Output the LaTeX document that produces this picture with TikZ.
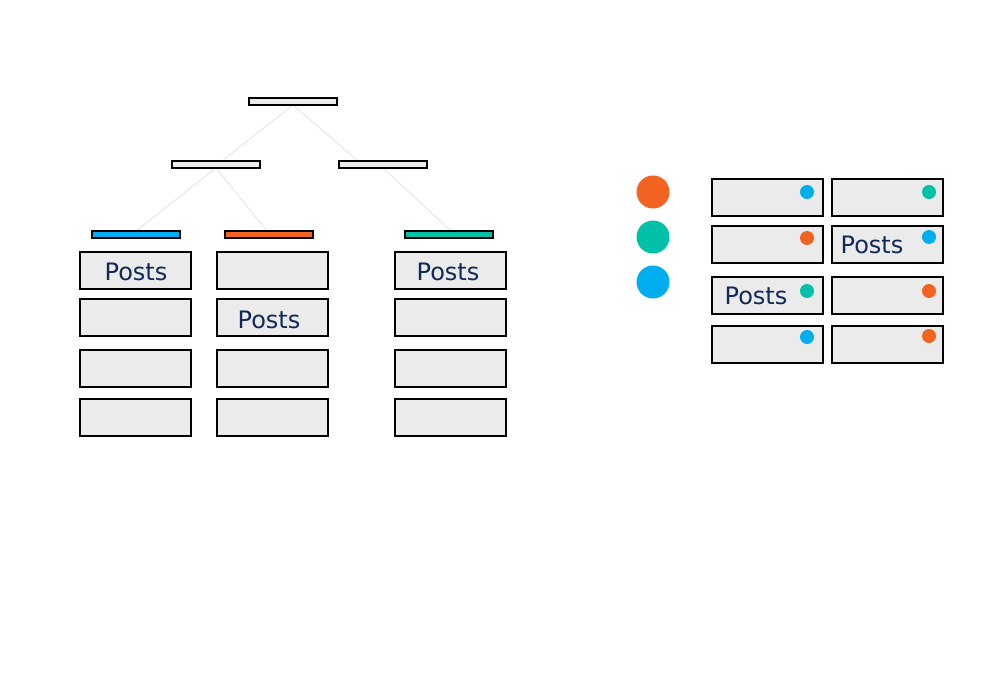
\documentclass[tikz,border=0pt]{standalone}
\usepackage{fontspec}
\usetikzlibrary{backgrounds}
\newfontfamily\postsfont{DejaVu Sans}
\definecolor{boxgray}{HTML}{EBEBEB}
\definecolor{linkgray}{HTML}{E2E2E2}
\definecolor{cblue}{HTML}{00AEEF}
\definecolor{corange}{HTML}{F26322}
\definecolor{cgreen}{HTML}{00C0A8}
\definecolor{navy}{HTML}{10295A}
\begin{document}
\begin{tikzpicture}[x=1pt,y=-1pt,
  bar/.style={draw=black,line width=1.6pt,fill=boxgray,minimum width=88pt,minimum height=7pt,inner sep=0pt,outer sep=0pt},
  slot/.style={draw=black,line width=1.6pt,fill=boxgray,minimum width=111pt,minimum height=37pt,inner sep=0pt,outer sep=0pt},
  link/.style={draw=linkgray,line width=0.8pt},
  txt/.style={font=\postsfont\fontsize{24}{24}\selectfont,text=navy,inner sep=0pt},
  bigdot/.style={circle,fill=#1,minimum size=33pt,inner sep=0pt},
  smalldot/.style={circle,fill=#1,minimum size=14pt,inner sep=0pt}]
\useasboundingbox (0,0) rectangle (1000,687);

% index tree bars
\node[bar] (root) at (293,101.5) {};
\node[bar] (midL) at (216,164.5) {};
\node[bar] (midR) at (383,164.5) {};
\node[bar,fill=cblue] (leafA) at (136,234.5) {};
\node[bar,fill=corange] (leafB) at (269,234.5) {};
\node[bar,fill=cgreen] (leafC) at (449,234.5) {};

% index tree links, kept behind the bars
\begin{scope}[on background layer]
\draw[link] (root.south) -- ([xshift=6pt]midL.north);
\draw[link] (root.south) -- ([xshift=-25pt]midR.north);
\draw[link] (midL.south) -- (leafA.north);
\draw[link] (midL.south) -- ([xshift=-2pt]leafB.north);
\draw[link] (midR.south) -- ([xshift=2pt]leafC.north);
\end{scope}

% storage slots below the leaves
\foreach \c/\x in {a/135.5,b/272.5,c/450.5}{
  \foreach \r/\y in {1/270.5,2/317.5,3/368.5,4/417.5}{
    \node[slot] (s\c\r) at (\x,\y) {};
  }
}
\node[txt] (pa) at (136,272) {Posts};
\node[txt] (pb) at (269,319.5) {Posts};
\node[txt] (pc) at (448,272) {Posts};

% legend dots
\node[bigdot=corange] (dO) at (653,192) {};
\node[bigdot=cgreen] (dG) at (653,237) {};
\node[bigdot=cblue] (dB) at (653,282) {};

% heap pages with colour tags
\foreach \c/\x in {l/767.5,r/887.5}{
  \foreach \r/\y in {1/197.5,2/244.5,3/295.5,4/344.5}{
    \node[slot] (h\c\r) at (\x,\y) {};
  }
}
\node[smalldot=cblue] (tl1) at (807,192) {};
\node[smalldot=cgreen] (tr1) at (929,192) {};
\node[smalldot=corange] (tl2) at (807,238) {};
\node[smalldot=cblue] (tr2) at (929,237) {};
\node[smalldot=cgreen] (tl3) at (807,291) {};
\node[smalldot=corange] (tr3) at (929,291) {};
\node[smalldot=cblue] (tl4) at (807,337) {};
\node[smalldot=corange] (tr4) at (929,336) {};
\node[txt] (pr) at (872,245) {Posts};
\node[txt] (pl) at (756,296) {Posts};
\end{tikzpicture}
\end{document}
